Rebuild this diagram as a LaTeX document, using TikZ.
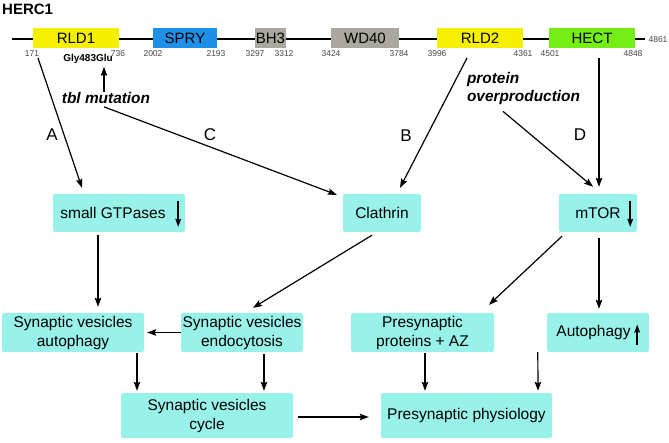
\documentclass[tikz,border=0pt]{standalone}
\usepackage{fontspec}
\setmainfont{Liberation Sans}
\usetikzlibrary{arrows.meta,calc}
\definecolor{boxc}{HTML}{98F2EA}
\definecolor{rldc}{HTML}{F5F000}
\definecolor{spryc}{HTML}{1E90E8}
\definecolor{grayc}{HTML}{ABA79F}
\definecolor{hectc}{HTML}{74EE15}
\definecolor{numc}{HTML}{444444}
\begin{document}
\begin{tikzpicture}[x=1pt,y=-1pt,
  box/.style={fill=boxc, rounded corners=2pt, inner sep=0pt, align=center, font=\fontsize{15.5}{19}\selectfont},
  dom/.style={inner sep=0pt, minimum height=20pt, font=\fontsize{15}{18}\selectfont},
  num/.style={inner sep=0pt, font=\fontsize{8.5}{10}\selectfont, text=numc},
  lab/.style={inner sep=0pt, font=\fontsize{17}{20}\selectfont},
  bi/.style={inner sep=0pt, font=\bfseries\itshape\fontsize{15.4}{18}\selectfont},
  arr/.style={line width=1.2pt, -{Stealth[length=9pt,width=6.5pt,inset=1.5pt]}},
  sarr/.style={line width=1.8pt, -{Stealth[length=8pt,width=5.5pt,inset=1pt]}}]
\useasboundingbox (0,0) rectangle (669,443);

% protein backbone
\coordinate (bbL) at (12,39.5);
\coordinate (bbR) at (645,39.5);
\draw[line width=2pt] (bbL) -- (bbR);
\node[dom, fill=rldc, minimum width=86pt] (rld1) at (76,38.5) {RLD1};
\node[dom, fill=spryc, minimum width=64pt] (spry) at (185,38.5) {SPRY};
\node[dom, fill=grayc, minimum width=31pt] (bh3) at (270.5,38.5) {BH3};
\node[dom, fill=grayc, minimum width=68pt] (wd40) at (365,38.5) {WD40};
\node[dom, fill=rldc, minimum width=86pt] (rld2) at (480,38.5) {RLD2};
\node[dom, fill=hectc, minimum width=86pt] (hect) at (592,38.5) {HECT};
\foreach \v/\x in {171/32,736/118,2002/153,2193/216,3297/255,3312/284,3424/331,3784/399,3996/437,4361/523,4501/550,4848/633}
  \node[num] (n\v) at (\x,54) {\v};
\node[num] (n4861) at (658,40) {4861};

\node[anchor=west, inner sep=0pt, font=\bfseries\fontsize{15}{18}\selectfont] (herc) at (2,9) {HERC1};
\node[inner sep=0pt, font=\bfseries\fontsize{10}{12}\selectfont] (gly) at (88,59) {Gly483Glu};
\node[bi] (tbl) at (106,98) {tbl mutation};
\node[bi, align=left] (prot) at (523.5,89) {protein\\overproduction};

\node[lab] (labA) at (52,135) {A};
\node[lab] (labC) at (210,135) {C};
\node[lab] (labB) at (406,136) {B};
\node[lab] (labD) at (580,135) {D};

% boxes
\node[box, minimum width=132pt, minimum height=38pt] (gtp) at (119,213) {small GTPases\hspace{12pt}};
\node[box, minimum width=78pt, minimum height=38pt] (clath) at (382,213) {Clathrin};
\node[box, minimum width=78pt, minimum height=38pt] (mtor) at (598,213) {mTOR};
\node[box, minimum width=142pt, minimum height=39pt] (sva) at (73,332.5) {Synaptic vesicles\\autophagy};
\node[box, minimum width=122pt, minimum height=39pt] (sve) at (242,332.5) {Synaptic vesicles\\endocytosis};
\node[box, minimum width=143pt, minimum height=39pt] (ppaz) at (422.5,332.5) {Presynaptic\\proteins + AZ};
\node[box, minimum width=102pt, minimum height=39pt] (auto) at (598,332.5) {Autophagy\hspace{9pt}};
\node[box, minimum width=172pt, minimum height=45pt] (svc) at (207,415.5) {Synaptic vesicles\\cycle};
\node[box, minimum width=171pt, minimum height=45pt] (phys) at (466.5,415.5) {Presynaptic physiology};

% small arrows inside boxes
\draw[sarr] ($(gtp.east)+(-7,-12)$) -- ($(gtp.east)+(-7,14)$);
\draw[sarr] ($(mtor.east)+(-7,-12)$) -- ($(mtor.east)+(-7,14)$);
\draw[sarr] ($(auto.east)+(-12,12.5)$) -- ($(auto.east)+(-12,-8)$);

% connectors
\coordinate (aS) at (38,58);
\coordinate (bS) at (467,58);
\coordinate (dS) at (599,58);
\draw[arr] (aS) -- ($(gtp.north)+(-37,-6)$);
\draw[arr] ($(tbl.north)+(-2,0)$) -- ($(gly.south)+(16,3)$);
\draw[arr] ($(tbl.south)+(-2,3)$) -- ($(clath.north west)+(-6,1)$);
\draw[arr] (bS) -- ($(clath.north)+(18,-6)$);
\draw[arr] ($(prot.south)+(-20.5,6)$) -- ($(mtor.north)+(-5,-7)$);
\draw[arr] (dS) -- ($(mtor.north)+(1,-7)$);
\draw[arr] ($(gtp.south)+(-21,3)$) -- ($(sva.north)+(25,-6)$);
\draw[arr] ($(clath.south)+(-10,3)$) -- ($(sve.north)+(11,-5)$);
\draw[arr] ($(mtor.south)+(-36,4)$) -- ($(ppaz.north)+(66.5,-8)$);
\draw[arr] ($(mtor.south)+(1,6)$) -- ($(auto.north)+(1,-4)$);
\draw[arr] (sve.west) -- ($(sva.east)+(3,0)$);
\draw[arr] ($(sva.south)+(64,1)$) -- ($(svc.north)+(-70,-2)$);
\draw[arr] ($(sve.south)+(22,2)$) -- ($(svc.north)+(57,-2)$);
\draw[arr] ($(svc.east)+(5,1.5)$) -- ($(phys.west)+(-12,1.5)$);
\draw[arr] ($(ppaz.south)+(2.5,1)$) -- ($(phys.north)+(-41.5,-2)$);
\draw[arr] ($(auto.south west)+(-9,0)$) -- ($(phys.north)+(71.5,-2)$);
\end{tikzpicture}
\end{document}
